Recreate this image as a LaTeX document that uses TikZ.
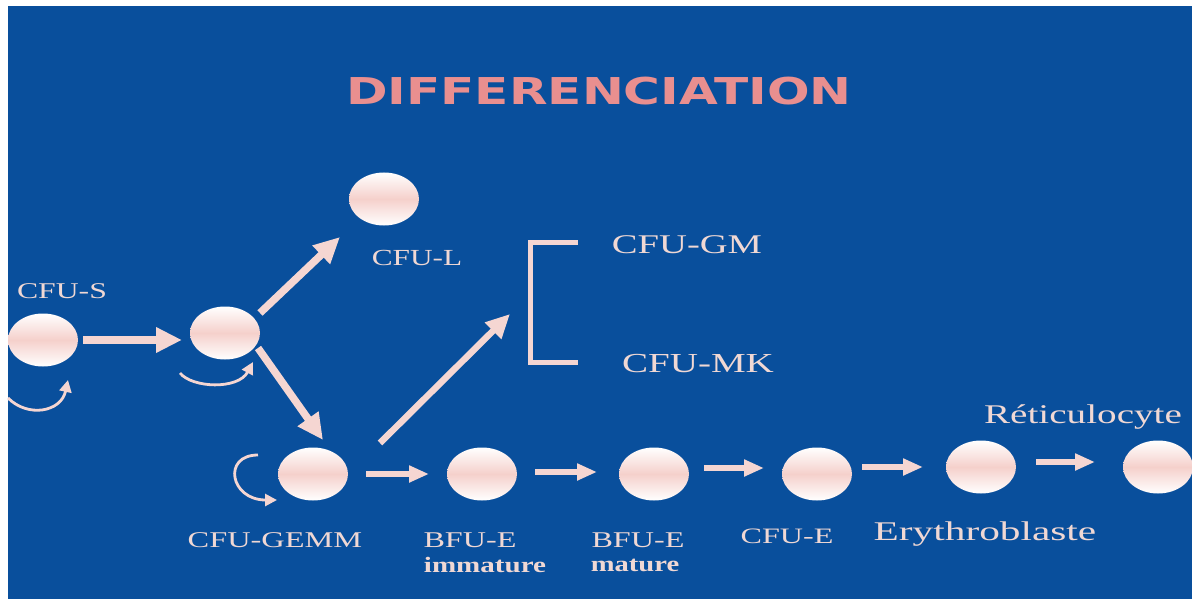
\documentclass[tikz,border=0pt]{standalone}
\usepackage{fontspec}
\usepackage{graphicx}
\setmainfont{Liberation Serif}
\newfontfamily\titlefont{DejaVu Sans}
\usetikzlibrary{arrows.meta,calc,shapes.geometric}
\definecolor{bgblue}{RGB}{9,79,156}
\definecolor{apink}{RGB}{245,214,210}
\definecolor{cpink}{RGB}{245,208,203}
\definecolor{tpink}{RGB}{240,216,212}
\definecolor{titlepink}{RGB}{233,143,143}
\newcommand\mylab[3]{{\fontsize{#1}{#1}\selectfont\scalebox{#2}[1]{#3}}}
\tikzset{
  cell/.style={ellipse,minimum width=70pt,minimum height=53pt,inner sep=0pt,
    top color=white,bottom color=white,middle color=cpink},
  lbl/.style={anchor=base,inner sep=0pt,text=tpink},
  bigarrow/.style={draw=apink,line width=7.5pt,-{Triangle[length=26pt,width=24pt]}},
  midarrow/.style={draw=apink,line width=6.5pt,-{Triangle[length=24pt,width=22pt]}},
  smallarrow/.style={draw=apink,line width=6.5pt,-{Triangle[length=20pt,width=16pt]}},
  curvearrow/.style={draw=apink,line width=2.8pt,-{Triangle[length=12pt,width=12pt]}},
}
\begin{document}
\begin{tikzpicture}[x=1pt,y=-1pt]
\useasboundingbox (0,0) rectangle (1192,599);
\fill[white] (0,0) rectangle (1192,599);
\fill[bgblue] (8,6) rectangle (1192,599);
\begin{scope}
\clip (8,6) rectangle (1192,599);
% cells
\node[cell] (S)  at (43,340) {};
\node[cell] (c2) at (225,333) {};
\node[cell] (L)  at (384,199) {};
\node[cell] (G)  at (313,474) {};
\node[cell] (Bi) at (482,474) {};
\node[cell] (Bm) at (654,474) {};
\node[cell] (CE) at (817,474) {};
\node[cell] (Er) at (981,467) {};
\node[cell] (Re) at (1158,467) {};
\end{scope}
% title
\node[anchor=base,inner sep=0pt,text=titlepink] (title) at (599,105)
  {\titlefont\bfseries\mylab{37}{1.355}{DIFFERENCIATION}};
% labels
\node[lbl] (tS)   at (62,298)   {\mylab{22.5}{1.41}{CFU-S}};
\node[lbl] (tL)   at (417,265)  {\mylab{23}{1.36}{CFU-L}};
\node[lbl] (tGM)  at (687,253)  {\mylab{27}{1.43}{CFU-GM}};
\node[lbl] (tMK)  at (698,372)  {\mylab{27.5}{1.42}{CFU-MK}};
\node[lbl] (tG)   at (275,547)  {\mylab{22.5}{1.44}{CFU-GEMM}};
\node[lbl] (tBi)  at (470,547)  {\mylab{22.5}{1.43}{BFU-E}};
\node[lbl] (tBi2) at (485,572)  {\bfseries\mylab{22}{1.32}{immature}};
\node[lbl] (tBm)  at (638,547)  {\mylab{22.5}{1.43}{BFU-E}};
\node[lbl] (tBm2) at (635,571)  {\bfseries\mylab{22}{1.3}{mature}};
\node[lbl] (tCE)  at (787,543)  {\mylab{22}{1.46}{CFU-E}};
\node[lbl] (tEr)  at (985,540)  {\mylab{27}{1.53}{Erythroblaste}};
\node[lbl] (tRe)  at (1083,423) {\mylab{27}{1.45}{Réticulocyte}};
% bracket
\coordinate (btop) at (578,242);
\coordinate (bbot) at (578,362);
\coordinate (btip) at (510,314);
\draw[apink,line width=5pt] (btop) -- ++(-48,0) |- (bbot);
% big arrows
\draw[bigarrow] ($(S)+(40,0)$) -- ($(c2)+(-43,7)$);
\draw[bigarrow] ($(c2)+(35,-20)$) -- ($(L)+(-44,38)$);
\draw[bigarrow] ($(c2)+(33,15)$) -- ($(G)+(10,-34)$);
\draw[midarrow] ($(G)+(67,-31)$) -- (btip);
% small arrows
\draw[smallarrow] ($(G)+(53,0)$) -- ($(Bi)+(-53,0)$);
\draw[smallarrow] ($(Bi)+(53,-2)$) -- ($(Bm)+(-57,-2)$);
\draw[smallarrow] ($(Bm)+(50,-6)$) -- ($(CE)+(-53,-6)$);
\draw[smallarrow] ($(CE)+(45,-7)$) -- ($(Er)+(-58,0)$);
\draw[smallarrow] ($(Er)+(55,-5)$) -- ($(Re)+(-63,-5)$);
% self-renewal curves
\draw[curvearrow] ($(S)+(-35,58)$) .. controls ($(S)+(-15,78)$) and ($(S)+(18,72)$) .. ($(S)+(25,40)$);
\draw[curvearrow] ($(c2)+(-45,40)$) .. controls ($(c2)+(-33,55)$) and ($(c2)+(13,57)$) .. ($(c2)+(28,29)$);
\draw[curvearrow] ($(G)+(-55,-19)$) .. controls ($(G)+(-91,-19)$) and ($(G)+(-83,26)$) .. ($(G)+(-36,26)$);
\end{tikzpicture}
\end{document}
